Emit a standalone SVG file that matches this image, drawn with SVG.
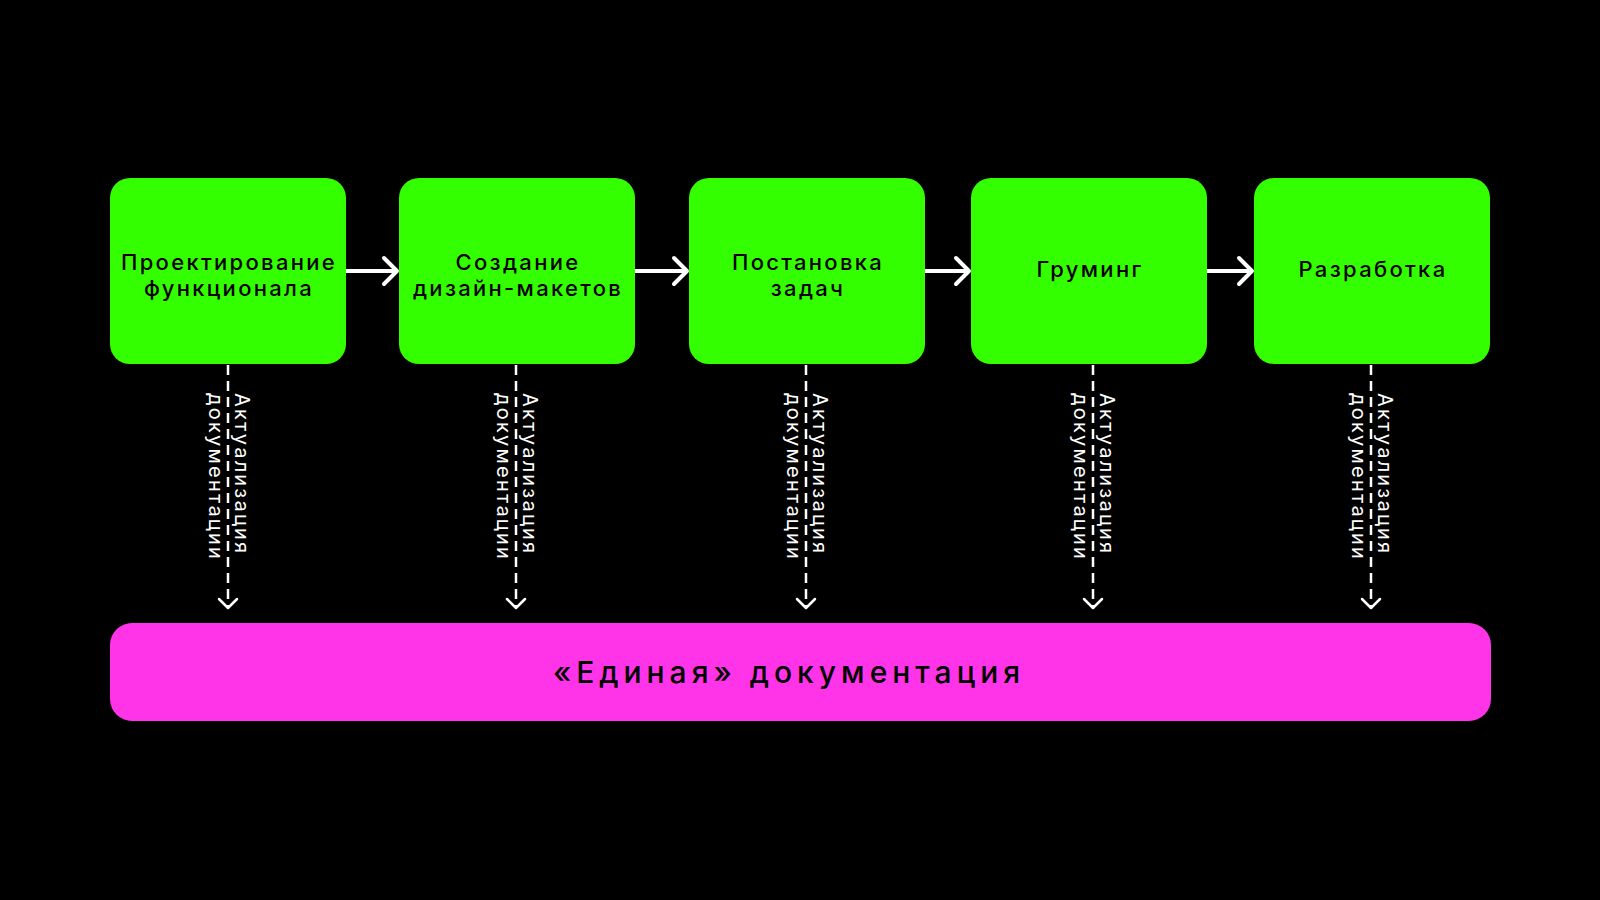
<svg xmlns="http://www.w3.org/2000/svg" width="1600" height="900" viewBox="0 0 1600 900">
<defs>
<style>
.node{fill:#33FF00;}
.lbl{font-family:"Inter","Noto Sans","DejaVu Sans",sans-serif;font-size:22px;font-weight:500;fill:#000;text-anchor:middle;letter-spacing:2.3px;}
.vl{font-family:"Inter","Noto Sans","DejaVu Sans",sans-serif;font-size:20px;fill:#fff;letter-spacing:2.2px;}
.flow{stroke:#fff;stroke-width:4;fill:none;}
.head{stroke:#fff;stroke-width:4;fill:none;stroke-linecap:round;stroke-linejoin:round;}
.dash{stroke:#fff;stroke-width:2.5;fill:none;stroke-dasharray:10 6;}
.dhead{stroke:#fff;stroke-width:2.5;fill:none;stroke-linecap:round;stroke-linejoin:round;}
.doc{fill:#FF33E8;}
.doclbl{font-family:"Inter","Noto Sans","DejaVu Sans",sans-serif;font-size:30px;font-weight:500;fill:#000;text-anchor:middle;letter-spacing:5px;}
</style>
</defs>
<rect width="1600" height="900" fill="#000"/>
<g id="node-1"><rect class="node" x="110" y="178" width="236" height="186" rx="20"/><text class="lbl" x="229" y="270">Проектирование</text><text class="lbl" x="229" y="296">функционала</text></g>
<g id="node-2"><rect class="node" x="399" y="178" width="236" height="186" rx="20"/><text class="lbl" x="518" y="270">Создание</text><text class="lbl" x="518" y="296">дизайн-макетов</text></g>
<g id="node-3"><rect class="node" x="689" y="178" width="236" height="186" rx="20"/><text class="lbl" x="808" y="270">Постановка</text><text class="lbl" x="808" y="296">задач</text></g>
<g id="node-4"><rect class="node" x="971" y="178" width="236" height="186" rx="20"/><text class="lbl" x="1090" y="277">Груминг</text></g>
<g id="node-5"><rect class="node" x="1254" y="178" width="236" height="186" rx="20"/><text class="lbl" x="1373" y="277">Разработка</text></g>
<g id="doc"><rect class="doc" x="110" y="623" width="1381" height="98" rx="22"/><text class="doclbl" x="789" y="683">«Единая» документация</text></g>
<g id="connectors">
<line class="flow" x1="346" y1="271" x2="396" y2="271"/><polyline class="head" points="384,258 397,271 384,284"/>
<line class="flow" x1="635" y1="271" x2="686" y2="271"/><polyline class="head" points="674,258 687,271 674,284"/>
<line class="flow" x1="925" y1="271" x2="968" y2="271"/><polyline class="head" points="956,258 969,271 956,284"/>
<line class="flow" x1="1207" y1="271" x2="1251" y2="271"/><polyline class="head" points="1239,258 1252,271 1239,284"/>
<line class="dash" x1="228" y1="365" x2="228" y2="606"/><polyline class="dhead" points="219,599 228,608 237,599"/>
<line class="dash" x1="516" y1="365" x2="516" y2="606"/><polyline class="dhead" points="507,599 516,608 525,599"/>
<line class="dash" x1="806" y1="365" x2="806" y2="606"/><polyline class="dhead" points="797,599 806,608 815,599"/>
<line class="dash" x1="1093" y1="365" x2="1093" y2="606"/><polyline class="dhead" points="1084,599 1093,608 1102,599"/>
<line class="dash" x1="1371" y1="365" x2="1371" y2="606"/><polyline class="dhead" points="1362,599 1371,608 1380,599"/>
<g transform="translate(228,393) rotate(90)"><text class="vl" x="0" y="-7">Актуализация</text><text class="vl" x="0" y="19">документации</text></g>
<g transform="translate(516,393) rotate(90)"><text class="vl" x="0" y="-7">Актуализация</text><text class="vl" x="0" y="19">документации</text></g>
<g transform="translate(806,393) rotate(90)"><text class="vl" x="0" y="-7">Актуализация</text><text class="vl" x="0" y="19">документации</text></g>
<g transform="translate(1093,393) rotate(90)"><text class="vl" x="0" y="-7">Актуализация</text><text class="vl" x="0" y="19">документации</text></g>
<g transform="translate(1371,393) rotate(90)"><text class="vl" x="0" y="-7">Актуализация</text><text class="vl" x="0" y="19">документации</text></g>
</g>
</svg>
